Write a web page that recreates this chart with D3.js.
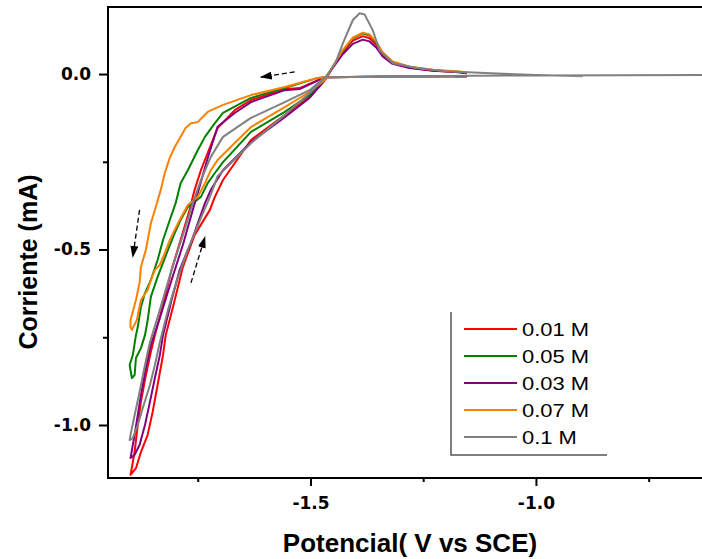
<!DOCTYPE html>
<html>
<head>
<meta charset="utf-8">
<script src="https://cdn.jsdelivr.net/npm/d3@7"></script>
<style>
  body { margin: 0; background: #fff; }
</style>
</head>
<body>
<div id="chart"></div>
<script>
// Cyclic voltammograms - Corriente vs Potencial, five concentrations

const seriesNames = ['0.01 M', '0.05 M', '0.03 M', '0.07 M', '0.1 M'];
const seriesColors = ['#ff0000', '#008000', '#800080', '#ff8000', '#808080'];

// [potential (V vs SCE), current (mA)] - forward sweep, return sweep, stripping peak
const cv001 = [
    [-1.153, -0.006], [-1.35, -0.008], [-1.468, -0.009], [-1.524, -0.040], [-1.557, -0.043],
    [-1.632, -0.074], [-1.668, -0.103], [-1.706, -0.154], [-1.728, -0.225], [-1.743, -0.274],
    [-1.757, -0.330], [-1.768, -0.387], [-1.788, -0.473], [-1.808, -0.558], [-1.827, -0.658],
    [-1.845, -0.744], [-1.854, -0.792], [-1.865, -0.858], [-1.876, -0.934], [-1.883, -1.000],
    [-1.890, -1.077], [-1.899, -1.142],
    [-1.887, -1.123], [-1.876, -1.077], [-1.861, -1.028], [-1.850, -0.963], [-1.839, -0.886],
    [-1.827, -0.801], [-1.821, -0.744], [-1.801, -0.644], [-1.783, -0.550], [-1.757, -0.459],
    [-1.723, -0.387], [-1.712, -0.350], [-1.694, -0.302], [-1.632, -0.188], [-1.557, -0.117],
    [-1.502, -0.066], [-1.468, -0.017],
    [-1.451, 0.018], [-1.428, 0.063], [-1.406, 0.095], [-1.384, 0.108], [-1.369, 0.102],
    [-1.353, 0.081], [-1.340, 0.055], [-1.318, 0.031], [-1.280, 0.018], [-1.229, 0.010],
    [-1.169, 0.005], [-1.153, 0.002]
];

const cv005 = [
    [-1.153, -0.006], [-1.35, -0.008], [-1.468, -0.009], [-1.484, -0.011], [-1.557, -0.040],
    [-1.632, -0.068], [-1.694, -0.111], [-1.712, -0.140], [-1.734, -0.179], [-1.750, -0.217],
    [-1.772, -0.274], [-1.788, -0.311], [-1.799, -0.368], [-1.812, -0.416], [-1.827, -0.473],
    [-1.839, -0.530], [-1.854, -0.587], [-1.867, -0.624], [-1.876, -0.664], [-1.883, -0.721],
    [-1.887, -0.744], [-1.894, -0.801], [-1.901, -0.829], [-1.896, -0.866],
    [-1.890, -0.858], [-1.887, -0.809], [-1.876, -0.781], [-1.867, -0.744], [-1.861, -0.701],
    [-1.854, -0.635], [-1.839, -0.578], [-1.827, -0.538], [-1.816, -0.501], [-1.801, -0.453],
    [-1.788, -0.416], [-1.772, -0.379], [-1.743, -0.350], [-1.728, -0.311], [-1.712, -0.282],
    [-1.694, -0.251], [-1.632, -0.165], [-1.557, -0.108], [-1.502, -0.060], [-1.468, -0.017],
    [-1.451, 0.020], [-1.428, 0.067], [-1.406, 0.102], [-1.384, 0.116], [-1.369, 0.110],
    [-1.353, 0.087], [-1.340, 0.059], [-1.318, 0.034], [-1.280, 0.020], [-1.229, 0.011],
    [-1.169, 0.006], [-1.153, 0.003]
];

const cv003 = [
    [-1.153, -0.006], [-1.35, -0.008], [-1.468, -0.009], [-1.524, -0.043], [-1.557, -0.046],
    [-1.632, -0.080], [-1.668, -0.111], [-1.706, -0.150], [-1.728, -0.240], [-1.750, -0.339],
    [-1.761, -0.387], [-1.783, -0.487], [-1.808, -0.587], [-1.834, -0.695], [-1.854, -0.772],
    [-1.865, -0.838], [-1.876, -0.915], [-1.883, -0.972], [-1.890, -1.028], [-1.899, -1.094],
    [-1.890, -1.085], [-1.879, -1.057], [-1.867, -1.000], [-1.856, -0.934], [-1.845, -0.866],
    [-1.834, -0.801], [-1.827, -0.744], [-1.808, -0.644], [-1.790, -0.558], [-1.763, -0.473],
    [-1.734, -0.368], [-1.721, -0.330], [-1.694, -0.274], [-1.632, -0.194], [-1.557, -0.123],
    [-1.502, -0.068], [-1.468, -0.017],
    [-1.451, 0.017], [-1.428, 0.057], [-1.406, 0.086], [-1.384, 0.098], [-1.369, 0.093],
    [-1.353, 0.074], [-1.340, 0.050], [-1.318, 0.029], [-1.280, 0.017], [-1.229, 0.009],
    [-1.169, 0.005], [-1.153, 0.002]
];

const cv007 = [
    [-1.180, -0.008], [-1.35, -0.008], [-1.468, -0.009], [-1.484, -0.011], [-1.557, -0.037],
    [-1.632, -0.060], [-1.694, -0.088], [-1.728, -0.108], [-1.750, -0.137], [-1.765, -0.140],
    [-1.777, -0.154], [-1.788, -0.179], [-1.801, -0.208], [-1.812, -0.239], [-1.823, -0.282],
    [-1.832, -0.330], [-1.843, -0.379], [-1.854, -0.425], [-1.865, -0.501], [-1.876, -0.550],
    [-1.879, -0.595], [-1.887, -0.644], [-1.899, -0.701], [-1.899, -0.721], [-1.896, -0.729],
    [-1.885, -0.701], [-1.876, -0.644], [-1.861, -0.615], [-1.854, -0.587], [-1.845, -0.558],
    [-1.834, -0.544], [-1.823, -0.510], [-1.812, -0.473], [-1.801, -0.444], [-1.790, -0.416],
    [-1.772, -0.373], [-1.750, -0.350], [-1.734, -0.311], [-1.721, -0.274], [-1.706, -0.245],
    [-1.677, -0.208], [-1.632, -0.151], [-1.595, -0.123], [-1.557, -0.094], [-1.506, -0.054],
    [-1.468, -0.017],
    [-1.451, 0.021], [-1.428, 0.069], [-1.406, 0.104], [-1.384, 0.118], [-1.369, 0.113],
    [-1.353, 0.090], [-1.340, 0.062], [-1.318, 0.036], [-1.280, 0.021], [-1.229, 0.012],
    [-1.169, 0.007], [-1.153, 0.004]
];

const cv01 = [
    [-0.614, -0.003], [-1.0, -0.004], [-1.3, -0.006], [-1.468, -0.009], [-1.502, -0.046],
    [-1.557, -0.080], [-1.595, -0.103], [-1.632, -0.125], [-1.694, -0.179], [-1.721, -0.236],
    [-1.743, -0.302], [-1.761, -0.368], [-1.783, -0.459], [-1.808, -0.558], [-1.834, -0.672],
    [-1.856, -0.764], [-1.867, -0.829], [-1.879, -0.906], [-1.890, -0.972], [-1.899, -1.028],
    [-1.901, -1.043],
    [-1.894, -1.037], [-1.883, -1.000], [-1.872, -0.952], [-1.856, -0.886], [-1.845, -0.829],
    [-1.834, -0.764], [-1.816, -0.672], [-1.796, -0.587], [-1.772, -0.501], [-1.745, -0.416],
    [-1.723, -0.350], [-1.706, -0.291], [-1.632, -0.197], [-1.557, -0.117], [-1.502, -0.054],
    [-1.468, -0.011],
    [-1.445, 0.030], [-1.428, 0.088], [-1.406, 0.154], [-1.391, 0.173], [-1.380, 0.170],
    [-1.362, 0.125], [-1.347, 0.068], [-1.317, 0.031], [-1.264, 0.017], [-1.200, 0.008],
    [-1.100, 0.002], [-1.000, -0.003], [-0.896, -0.006]
];

const seriesData = [cv001, cv005, cv003, cv007, cv01];

const xMajorTicks = [-1.5, -1.0];
const xMinorTicks = [-1.75, -1.25, -0.75];
const yMajorTicks = [0.0, -0.5, -1.0];
const yMinorTicks = [-0.25, -0.75];

// sweep direction arrows: [from, to] in data coordinates
const sweepArrows = [
    [[-1.535, 0.006], [-1.610, -0.009]],
    [[-1.879, -0.387], [-1.894, -0.521]],
    [[-1.765, -0.595], [-1.734, -0.464]]
];

const width = 702;
const height = 559;
const plot = { left: 108, top: 7, right: 710, bottom: 478 };

const svg = d3.select('#chart').append('svg')
    .attr('width', width)
    .attr('height', height)
    .style('display', 'block');

const x = d3.scaleLinear().domain([-1.949, -0.614]).range([plot.left, plot.right]);
const y = d3.scaleLinear().domain([-1.151, 0.191]).range([plot.bottom, plot.top]);

svg.append('defs').append('clipPath')
    .attr('id', 'plot-clip')
    .append('rect')
    .attr('x', plot.left)
    .attr('y', plot.top)
    .attr('width', plot.right - plot.left)
    .attr('height', plot.bottom - plot.top);

const tickFmt = d => d.toFixed(1);

// X axis
svg.append('g')
    .attr('transform', `translate(0, ${plot.bottom})`)
    .call(d3.axisBottom(x).tickValues(xMajorTicks).tickSize(8).tickPadding(11).tickSizeOuter(0).tickFormat(tickFmt));
svg.append('g')
    .attr('transform', `translate(0, ${plot.bottom})`)
    .call(d3.axisBottom(x).tickValues(xMinorTicks).tickSize(4).tickSizeOuter(0).tickFormat(''));

// Y axis
svg.append('g')
    .attr('transform', `translate(${plot.left}, 0)`)
    .call(d3.axisLeft(y).tickValues(yMajorTicks).tickSize(9).tickPadding(8).tickSizeOuter(0).tickFormat(tickFmt));
svg.append('g')
    .attr('transform', `translate(${plot.left}, 0)`)
    .call(d3.axisLeft(y).tickValues(yMinorTicks).tickSize(5).tickSizeOuter(0).tickFormat(''));

svg.selectAll('.domain').remove();
svg.selectAll('.tick line').attr('stroke', '#000').attr('stroke-width', 2);
svg.selectAll('.tick text')
    .attr('fill', '#000')
    .style('font-family', '"DejaVu Sans", sans-serif')
    .style('font-weight', 'bold')
    .style('font-size', '17px');

// Frame (right side falls outside the window)
svg.append('rect')
    .attr('x', plot.left)
    .attr('y', plot.top)
    .attr('width', plot.right - plot.left)
    .attr('height', plot.bottom - plot.top)
    .attr('fill', 'none')
    .attr('stroke', '#000')
    .attr('stroke-width', 2);

// Curves
const line = d3.line()
    .x(d => x(d[0]))
    .y(d => y(d[1]));

svg.append('g')
    .attr('clip-path', 'url(#plot-clip)')
    .selectAll('path')
    .data(seriesData)
    .join('path')
    .attr('d', line)
    .attr('fill', 'none')
    .attr('stroke', (d, i) => seriesColors[i])
    .attr('stroke-width', 2)
    .attr('stroke-linejoin', 'round');

// Arrows
svg.select('defs').append('marker')
    .attr('id', 'arrowhead')
    .attr('markerUnits', 'userSpaceOnUse')
    .attr('markerWidth', 12)
    .attr('markerHeight', 8)
    .attr('refX', 11)
    .attr('refY', 4)
    .attr('orient', 'auto')
    .append('path')
    .attr('d', 'M0,0 L12,4 L0,8 Z')
    .attr('fill', '#000');

svg.append('g')
    .selectAll('line')
    .data(sweepArrows)
    .join('line')
    .attr('x1', d => x(d[0][0]))
    .attr('y1', d => y(d[0][1]))
    .attr('x2', d => x(d[1][0]))
    .attr('y2', d => y(d[1][1]))
    .attr('stroke', '#000')
    .attr('stroke-width', 1.3)
    .attr('stroke-dasharray', '5,3')
    .attr('marker-end', 'url(#arrowhead)');

// Axis titles
svg.append('text')
    .attr('x', 410)
    .attr('y', 552)
    .attr('text-anchor', 'middle')
    .style('font-family', '"Liberation Sans", Arial, sans-serif')
    .style('font-weight', 'bold')
    .style('font-size', '26px')
    .text('Potencial( V vs SCE)');

svg.append('text')
    .attr('transform', 'translate(37, 262) rotate(-90)')
    .attr('text-anchor', 'middle')
    .style('font-family', '"Liberation Sans", Arial, sans-serif')
    .style('font-weight', 'bold')
    .style('font-size', '25px')
    .text('Corriente (mA)');

// Legend
const legend = svg.append('g');
legend.append('path')
    .attr('d', 'M451,312 L451,455 L607,455')
    .attr('fill', 'none')
    .attr('stroke', '#555')
    .attr('stroke-width', 1.5);

const rows = legend.selectAll('g.row')
    .data(seriesNames)
    .join('g')
    .attr('class', 'row')
    .attr('transform', (d, i) => `translate(0, ${329 + i * 27})`);

rows.append('line')
    .attr('x1', 464)
    .attr('x2', 517)
    .attr('stroke', (d, i) => seriesColors[i])
    .attr('stroke-width', 2);

// the legend glyphs in the source are stretched horizontally
rows.append('text')
    .attr('transform', 'translate(522, 7) scale(1.22, 1)')
    .style('font-family', '"Liberation Sans", Arial, sans-serif')
    .style('font-size', '18px')
    .text(d => d);
</script>
</body>
</html>
